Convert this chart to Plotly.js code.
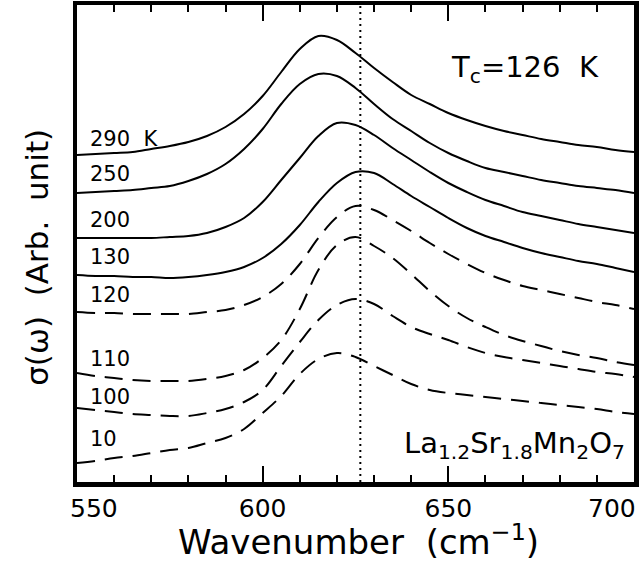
<!DOCTYPE html>
<html>
<head>
<meta charset="utf-8">
<script src="https://cdn.plot.ly/plotly-3.0.1.min.js"></script>
<style>
html,body{margin:0;padding:0;background:#fff;}
#chart{width:642px;height:569px;}
</style>
</head>
<body>
<div id="chart"></div>
<script>
// Wavenumber (cm^-1)
const wavenumber = [550,555,560,565,570,575,580,585,590,595,600,605,610,615,620,625,630,635,640,645,650,655,660,665,670,675,680,685,690,695,700];

// sigma(omega), arbitrary units (curves offset vertically as in the figure)
const sigma290 = [3.26,3.27,3.28,3.29,3.32,3.35,3.39,3.45,3.54,3.67,3.85,4.09,4.32,4.45,4.41,4.28,4.13,3.99,3.86,3.77,3.68,3.61,3.55,3.50,3.46,3.42,3.39,3.36,3.34,3.31,3.29];
const sigma250 = [2.88,2.89,2.90,2.91,2.93,2.95,3.00,3.07,3.17,3.32,3.52,3.77,3.97,4.07,4.05,3.93,3.77,3.62,3.50,3.38,3.28,3.20,3.13,3.09,3.05,3.01,2.98,2.95,2.93,2.91,2.88];
const sigma200 = [2.43,2.43,2.43,2.43,2.43,2.44,2.45,2.48,2.54,2.63,2.79,3.01,3.23,3.45,3.58,3.56,3.46,3.33,3.21,3.09,2.98,2.89,2.81,2.75,2.69,2.65,2.61,2.57,2.54,2.51,2.48];
const sigma130 = [2.06,2.05,2.05,2.04,2.04,2.03,2.04,2.06,2.09,2.14,2.23,2.37,2.56,2.79,2.98,3.09,3.08,2.97,2.85,2.74,2.63,2.53,2.45,2.39,2.33,2.28,2.24,2.20,2.17,2.13,2.09];
const sigma120 = [1.69,1.68,1.68,1.67,1.67,1.67,1.67,1.69,1.71,1.76,1.84,1.97,2.17,2.43,2.64,2.75,2.71,2.61,2.50,2.38,2.27,2.17,2.08,2.01,1.95,1.91,1.87,1.83,1.79,1.76,1.72];
const sigma110 = [1.08,1.05,1.03,1.01,1.00,1.00,1.00,1.02,1.05,1.11,1.23,1.41,1.72,2.11,2.36,2.44,2.35,2.23,2.07,1.90,1.75,1.63,1.54,1.46,1.40,1.35,1.30,1.26,1.23,1.19,1.16];
const sigma100 = [0.73,0.71,0.69,0.67,0.66,0.65,0.65,0.68,0.72,0.79,0.91,1.15,1.39,1.61,1.76,1.82,1.77,1.65,1.54,1.47,1.41,1.34,1.28,1.24,1.21,1.18,1.15,1.12,1.09,1.07,1.04];
const sigma10  = [0.18,0.20,0.23,0.25,0.28,0.31,0.33,0.38,0.43,0.52,0.68,0.85,1.07,1.22,1.28,1.24,1.15,1.06,0.97,0.91,0.88,0.86,0.84,0.82,0.80,0.78,0.76,0.74,0.72,0.69,0.67];

// Curve labels and their vertical positions
const curveLabels = ["290  K","250","200","130","120","110","100","10"];
const labelY = [3.42,3.07,2.61,2.24,1.86,1.22,0.84,0.42];

// Tick values / labels
const xTickVals = [550,600,650,700];
const xTickText = ["550","600","650","700"];

// Vertical marker (phonon position)
const markerX = 626.3;

const curves = [
  {y: sigma290, dash: 'solid'},
  {y: sigma250, dash: 'solid'},
  {y: sigma200, dash: 'solid'},
  {y: sigma130, dash: 'solid'},
  {y: sigma120, dash: '18px,10px'},
  {y: sigma110, dash: '18px,10px'},
  {y: sigma100, dash: '18px,10px'},
  {y: sigma10,  dash: '18px,10px'}
];

const traces = curves.map(c => ({
  x: wavenumber, y: c.y, type: 'scatter', mode: 'lines',
  line: {color: '#000', width: 2, dash: c.dash, shape: 'spline', smoothing: 1},
  hoverinfo: 'skip', showlegend: false
}));

const FONT = 'DejaVu Sans, Verdana, sans-serif';

const annotations = curveLabels.map((t, i) => ({
  x: 553, y: labelY[i], xref: 'x', yref: 'y', text: t,
  showarrow: false, xanchor: 'left', yanchor: 'middle',
  font: {family: FONT, size: 21, color: '#000'}
}));

// edge tick labels shifted inward (as in the original figure)
annotations.push({x: xTickVals[0], y: 0, xref: 'x', yref: 'paper', text: xTickText[0],
  showarrow: false, xanchor: 'center', yanchor: 'top', xshift: 17, yshift: -10,
  font: {family: FONT, size: 25, color: '#000'}});
annotations.push({x: xTickVals[3], y: 0, xref: 'x', yref: 'paper', text: xTickText[3],
  showarrow: false, xanchor: 'center', yanchor: 'top', xshift: -22, yshift: -10,
  font: {family: FONT, size: 25, color: '#000'}});

annotations.push({x: 650.1, y: 4.12, xref: 'x', yref: 'y', text: 'T<sub>c</sub>=126  K',
  showarrow: false, xanchor: 'left', yanchor: 'middle',
  font: {family: FONT, size: 29, color: '#000'}});
annotations.push({x: 698, y: 0.36, xref: 'x', yref: 'y',
  text: 'La<sub>1.2</sub>Sr<sub>1.8</sub>Mn<sub>2</sub>O<sub>7</sub>',
  showarrow: false, xanchor: 'right', yanchor: 'middle',
  font: {family: FONT, size: 29, color: '#000'}});

// axis titles
annotations.push({x: 0.5045, y: -0.1216, xref: 'paper', yref: 'paper',
  text: 'Wavenumber  (cm<sup>−1</sup>)', showarrow: false,
  xanchor: 'center', yanchor: 'middle',
  font: {family: FONT, size: 34, color: '#000'}});
annotations.push({x: -0.0718, y: 0.47, xref: 'paper', yref: 'paper',
  text: 'σ(ω)  (Arb.  unit)', showarrow: false, textangle: -90,
  xanchor: 'center', yanchor: 'middle',
  font: {family: FONT, size: 31, color: '#000'}});

const layout = {
  width: 642, height: 569,
  margin: {l: 77, r: 8, t: 5, b: 87, pad: 0},
  paper_bgcolor: '#fff', plot_bgcolor: '#fff',
  showlegend: false,
  xaxis: {
    range: [550, 700], autorange: false,
    tickvals: xTickVals, ticktext: ["", xTickText[1], xTickText[2], ""],
    ticks: 'inside', ticklen: 16, tickwidth: 2, tickcolor: '#000',
    minor: {dtick: 10, tick0: 550, ticks: 'inside', ticklen: 7, tickwidth: 2, tickcolor: '#000'},
    showline: true, linewidth: 4.5, linecolor: '#000', mirror: 'allticks',
    showgrid: false, zeroline: false,
    tickfont: {family: FONT, size: 25, color: '#000'}
  },
  yaxis: {
    range: [-0.01, 4.76], autorange: false,
    showticklabels: false, ticks: '',
    showline: true, linewidth: 4.5, linecolor: '#000', mirror: true,
    showgrid: false, zeroline: false
  },
  shapes: [{
    type: 'line', xref: 'x', yref: 'paper', x0: markerX, x1: markerX, y0: 0, y1: 1,
    line: {color: '#000', width: 2, dash: '2px,4px'}
  }],
  annotations: annotations
};

Plotly.newPlot('chart', traces, layout, {staticPlot: true, displayModeBar: false});
</script>
</body>
</html>
